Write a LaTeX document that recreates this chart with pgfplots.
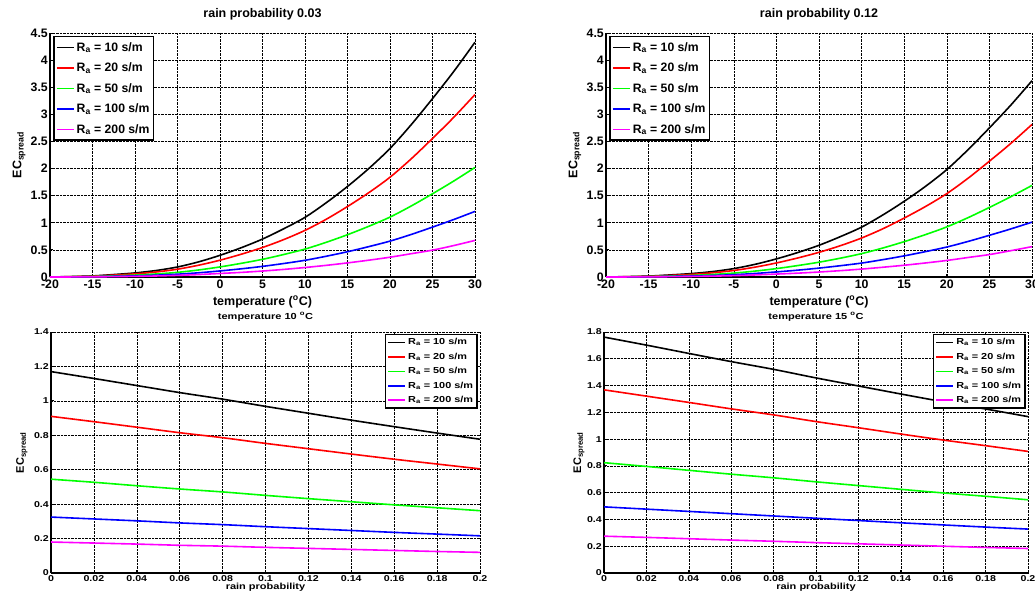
\documentclass[border=0pt]{standalone}
\usepackage{fontspec}
\setmainfont{Liberation Sans}
\newfontfamily\widefont[FakeStretch=1.25]{Liberation Sans}
\usepackage{pgfplots}
\usepackage{pgfplotstable}
\pgfplotsset{compat=1.18}

\pgfplotstableread{
T k10 k20 k50 k100 k200
-20 0 0 0 0 0
-17.5 0.008 0.006 0.004 0.002 0.001
-15 0.02 0.016 0.01 0.006 0.003
-12.5 0.045 0.035 0.021 0.013 0.007
-10 0.075 0.058 0.035 0.021 0.012
-7.5 0.12 0.093 0.056 0.034 0.019
-5 0.185 0.144 0.086 0.052 0.03
-2.5 0.28 0.218 0.13 0.078 0.045
0 0.40 0.31 0.186 0.112 0.065
2.5 0.54 0.42 0.252 0.151 0.085
5 0.70 0.544 0.326 0.196 0.11
7.5 0.89 0.69 0.415 0.249 0.14
10 1.10 0.86 0.515 0.308 0.175
12.5 1.37 1.065 0.64 0.383 0.215
15 1.67 1.30 0.78 0.466 0.26
17.5 2.00 1.555 0.935 0.56 0.31
20 2.37 1.84 1.105 0.662 0.365
22.5 2.81 2.18 1.31 0.785 0.43
25 3.29 2.555 1.535 0.92 0.495
27.5 3.79 2.945 1.77 1.06 0.58
30 4.33 3.365 2.02 1.21 0.675
}\rainA

\pgfplotstableread{
T k10 k20 k50 k100 k200
-20 0 0 0 0 0
-17.5 0.007 0.005 0.003 0.002 0.001
-15 0.017 0.013 0.008 0.005 0.003
-12.5 0.038 0.029 0.018 0.011 0.006
-10 0.063 0.048 0.029 0.018 0.01
-7.5 0.10 0.078 0.047 0.028 0.016
-5 0.155 0.12 0.072 0.043 0.025
-2.5 0.234 0.182 0.109 0.065 0.038
0 0.334 0.259 0.155 0.094 0.054
2.5 0.451 0.351 0.211 0.126 0.071
5 0.585 0.455 0.273 0.164 0.092
7.5 0.744 0.577 0.347 0.208 0.117
10 0.92 0.719 0.431 0.257 0.146
12.5 1.145 0.89 0.535 0.32 0.18
15 1.396 1.087 0.652 0.39 0.217
17.5 1.672 1.30 0.782 0.468 0.259
20 1.981 1.538 0.924 0.553 0.305
22.5 2.349 1.822 1.095 0.656 0.36
25 2.75 2.136 1.283 0.769 0.414
27.5 3.168 2.462 1.48 0.886 0.485
30 3.62 2.813 1.689 1.012 0.56
}\rainB

\pgfplotstableread{
p k10 k20 k50 k100 k200
0 1.17 0.91 0.545 0.325 0.18
0.02 1.13 0.879 0.527 0.314 0.174
0.04 1.089 0.847 0.507 0.303 0.168
0.06 1.048 0.815 0.488 0.291 0.161
0.08 1.01 0.786 0.471 0.281 0.156
0.1 0.968 0.753 0.451 0.269 0.149
0.12 0.928 0.722 0.432 0.258 0.143
0.14 0.888 0.691 0.414 0.247 0.137
0.16 0.85 0.661 0.396 0.236 0.131
0.18 0.813 0.633 0.379 0.226 0.125
0.2 0.777 0.605 0.362 0.216 0.12
}\tempA

\pgfplotstableread{
p k10 k20 k50 k100 k200
0 1.762 1.368 0.824 0.494 0.275
0.02 1.702 1.321 0.796 0.477 0.266
0.04 1.640 1.274 0.767 0.46 0.256
0.06 1.579 1.226 0.738 0.443 0.246
0.08 1.521 1.181 0.711 0.426 0.237
0.1 1.457 1.131 0.681 0.409 0.227
0.12 1.397 1.085 0.653 0.392 0.218
0.14 1.337 1.038 0.625 0.375 0.209
0.16 1.279 0.993 0.598 0.359 0.2
0.18 1.225 0.951 0.573 0.343 0.191
0.2 1.168 0.908 0.547 0.328 0.183
}\tempB

\definecolor{mgreen}{rgb}{0,1,0}
\definecolor{mmag}{rgb}{1,0,1}
\definecolor{mblue}{rgb}{0,0,1}
\definecolor{mred}{rgb}{1,0,0}

\pgfplotsset{
  common/.style={
    scale only axis, anchor=south west,
    axis lines*=left, axis line style={line width=1.4pt,-},
    grid=major, major grid style={densely dotted, black, line width=0.6pt},
    tick align=inside, major tick length=3pt, tick style={black, line width=0.8pt},
    /pgf/number format/assume math mode=true,
    /pgf/number format/fixed,
    legend cell align=left,
    legend image code/.code={\draw[##1,line width=1.6pt] (0pt,0pt) -- (17pt,0pt);},
    every axis plot/.append style={line width=1.6pt, smooth},
  },
  topstyle/.style={common, width=425pt, height=244pt,
    xmin=-20, xmax=30, ymin=0, ymax=4.5,
    xtick={-20,-15,-10,-5,0,5,10,15,20,25,30},
    ytick={0,0.5,1,1.5,2,2.5,3,3.5,4,4.5},
    ticklabel style={font=\bfseries\fontsize{12.3}{14}\selectfont},
    xticklabel style={anchor=north, inner sep=0pt, yshift=-3pt},
    yticklabel style={anchor=east, inner sep=0pt, xshift=-2pt},
    xlabel={temperature (\textsuperscript{o}C)},
    ylabel={EC\textsubscript{spread}},
    label style={font=\bfseries\fontsize{12.5}{14}\selectfont},
    xlabel style={at={(axis description cs:0.5,0)}, anchor=center, yshift=-25pt},
    ylabel style={at={(axis description cs:-0.073,0.5)}, anchor=center},
    title style={font=\bfseries\fontsize{12.5}{14}\selectfont, at={(axis description cs:0.5,1)}, anchor=center, yshift=12.5pt},
    legend style={at={(axis description cs:0.008,0.988)}, anchor=north west,
      draw=black, line width=1.5pt, fill=white,
      font=\bfseries\fontsize{12.2}{14}\selectfont, row sep=6.2pt, inner ysep=3.5pt, inner xsep=2pt},
  },
  botstyle/.style={common, height=241pt,
    xmin=0, xmax=0.2, ymin=0,
    xtick={0,0.02,0.04,0.06,0.08,0.1,0.12,0.14,0.16,0.18,0.2},
    /pgf/number format/precision=2,
    ticklabel style={font=\widefont\bfseries\fontsize{8.5}{10}\selectfont},
    xticklabel style={anchor=north, inner sep=0pt, yshift=-2pt},
    yticklabel style={anchor=east, inner sep=0pt, xshift=-2pt},
    xlabel={rain probability},
    ylabel={EC\textsubscript{spread}},
    xlabel style={font=\widefont\bfseries\fontsize{8.8}{10}\selectfont, at={(axis description cs:0.5,0)}, anchor=center, yshift=-14pt},
    ylabel style={font=\bfseries\fontsize{11}{12}\selectfont},
    title style={font=\widefont\bfseries\fontsize{8.8}{10}\selectfont, at={(axis description cs:0.5,1)}, anchor=center, yshift=9pt},
    legend style={at={(axis description cs:0.995,0.992)}, anchor=north east,
      draw=black, line width=1.5pt, fill=white,
      font=\widefont\bfseries\fontsize{8.7}{10}\selectfont, row sep=2.6pt, inner sep=2pt},
  },
}

\begin{document}
\begin{tikzpicture}
% top left
\begin{axis}[topstyle, at={(50pt,313pt)}, title={rain probability 0.03}]
\addplot[black] table[x=T,y=k10] {\rainA};
\addplot[mred] table[x=T,y=k20] {\rainA};
\addplot[mgreen] table[x=T,y=k50] {\rainA};
\addplot[mblue] table[x=T,y=k100] {\rainA};
\addplot[mmag] table[x=T,y=k200] {\rainA};
\legend{R\textsubscript{a} = 10 s/m, R\textsubscript{a} = 20 s/m, R\textsubscript{a} = 50 s/m, R\textsubscript{a} = 100 s/m, R\textsubscript{a} = 200 s/m}
\end{axis}
% top right
\begin{axis}[topstyle, at={(606pt,313pt)}, width=426pt, title={rain probability 0.12}]
\addplot[black] table[x=T,y=k10] {\rainB};
\addplot[mred] table[x=T,y=k20] {\rainB};
\addplot[mgreen] table[x=T,y=k50] {\rainB};
\addplot[mblue] table[x=T,y=k100] {\rainB};
\addplot[mmag] table[x=T,y=k200] {\rainB};
\legend{R\textsubscript{a} = 10 s/m, R\textsubscript{a} = 20 s/m, R\textsubscript{a} = 50 s/m, R\textsubscript{a} = 100 s/m, R\textsubscript{a} = 200 s/m}
\end{axis}
% bottom left
\begin{axis}[botstyle, at={(51pt,17pt)}, width=429pt, ymax=1.4,
  ytick={0,0.2,0.4,0.6,0.8,1,1.2,1.4},
  ylabel style={at={(axis description cs:-0.068,0.5)}, anchor=center},
  title={temperature 10 \textsuperscript{o}C}]
\addplot[black] table[x=p,y=k10] {\tempA};
\addplot[mred] table[x=p,y=k20] {\tempA};
\addplot[mgreen] table[x=p,y=k50] {\tempA};
\addplot[mblue] table[x=p,y=k100] {\tempA};
\addplot[mmag] table[x=p,y=k200] {\tempA};
\legend{R\textsubscript{a} = 10 s/m, R\textsubscript{a} = 20 s/m, R\textsubscript{a} = 50 s/m, R\textsubscript{a} = 100 s/m, R\textsubscript{a} = 200 s/m}
\end{axis}
% bottom right
\begin{axis}[botstyle, at={(604pt,17pt)}, width=424pt, ymax=1.8,
  ytick={0,0.2,0.4,0.6,0.8,1,1.2,1.4,1.6,1.8},
  ylabel style={at={(axis description cs:-0.059,0.5)}, anchor=center},
  title={temperature 15 \textsuperscript{o}C}]
\addplot[black] table[x=p,y=k10] {\tempB};
\addplot[mred] table[x=p,y=k20] {\tempB};
\addplot[mgreen] table[x=p,y=k50] {\tempB};
\addplot[mblue] table[x=p,y=k100] {\tempB};
\addplot[mmag] table[x=p,y=k200] {\tempB};
\legend{R\textsubscript{a} = 10 s/m, R\textsubscript{a} = 20 s/m, R\textsubscript{a} = 50 s/m, R\textsubscript{a} = 100 s/m, R\textsubscript{a} = 200 s/m}
\end{axis}
\pgfresetboundingbox
\path[use as bounding box] (0pt,0pt) rectangle (1035pt,590pt);
\end{tikzpicture}
\end{document}
